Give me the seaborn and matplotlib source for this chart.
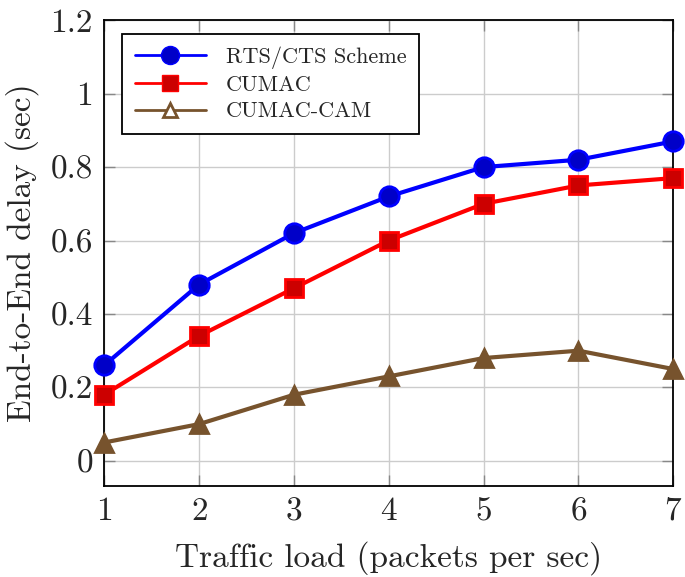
import pandas as pd
import seaborn as sns
import matplotlib.pyplot as plt
from matplotlib.lines import Line2D

# Data
trafficLoad = [1, 2, 3, 4, 5, 6, 7]
rtsCtsDelay = [0.26, 0.48, 0.62, 0.72, 0.80, 0.82, 0.87]
cumacDelay = [0.18, 0.34, 0.47, 0.60, 0.70, 0.75, 0.77]
cumacCamDelay = [0.05, 0.10, 0.18, 0.23, 0.28, 0.30, 0.25]
seriesNames = ["RTS/CTS Scheme", "CUMAC", "CUMAC-CAM"]
yTicks = [0, 0.2, 0.4, 0.6, 0.8, 1.0, 1.2]
yTickLabels = ["0", "0.2", "0.4", "0.6", "0.8", "1", "1.2"]

sns.set_style("white")
plt.rcParams['font.family'] = ['cmr10', 'DejaVu Serif']
plt.rcParams['mathtext.fontset'] = 'cm'
plt.rcParams['axes.formatter.use_mathtext'] = True

# Colors: line, marker face
blue, blueFace = "#0000FF", "#0000C8"
red, redFace = "#FF0000", "#CC0000"
brown = "#77532D"

fig = plt.figure(figsize=(6.85, 5.77), dpi=100)
ax = fig.add_axes([0.152, 0.158, 0.831, 0.807])

styles = [
    (rtsCtsDelay, blue, "o", blueFace, 14),
    (cumacDelay, red, "s", redFace, 13),
    (cumacCamDelay, brown, "^", brown, 13),
]
for (values, color, marker, face, size), name in zip(styles, seriesNames):
    df = pd.DataFrame({"load": trafficLoad, "delay": values})
    sns.lineplot(data=df, x="load", y="delay", ax=ax, color=color, lw=3,
                 marker=marker, markersize=size, markerfacecolor=face,
                 markeredgecolor=color, markeredgewidth=2, zorder=3,
                 clip_on=False)

# Legend (triangle shown hollow as in the original)
handles = [
    Line2D([], [], color=blue, lw=2, marker="o", markersize=13,
           markerfacecolor=blueFace, markeredgecolor=blue),
    Line2D([], [], color=red, lw=2, marker="s", markersize=12,
           markerfacecolor=redFace, markeredgecolor=red),
    Line2D([], [], color=brown, lw=2, marker="^", markersize=10,
           markerfacecolor="white", markeredgecolor=brown, markeredgewidth=2),
]
leg = ax.legend(handles, seriesNames, loc="upper left", bbox_to_anchor=(0.032, 0.97),
                borderaxespad=0, fontsize=16, frameon=True, fancybox=False,
                edgecolor="black", framealpha=1, handlelength=3.2, borderpad=0.55,
                labelspacing=0.3, handletextpad=0.9)
leg.get_frame().set_linewidth(1.3)
leg.set_zorder(5)

ax.set_xlim(1, 7)
ax.set_ylim(-0.068, 1.2)
ax.set_xticks(trafficLoad)
ax.set_yticks(yTicks)
ax.set_yticklabels(yTickLabels)
ax.grid(True, color="#CCCCCC", lw=1)
ax.tick_params(direction="in", length=8, width=1, color="#888888", labelsize=24,
               top=True, right=True, left=True, bottom=True, pad=8)
for spine in ax.spines.values():
    spine.set_color("black")
    spine.set_linewidth(1.3)

ax.set_xlabel("Traffic load (packets per sec)", fontsize=24, labelpad=11)
ax.set_ylabel("End-to-End delay (sec)", fontsize=24, labelpad=8)

fig.savefig("out.png", dpi=100)
